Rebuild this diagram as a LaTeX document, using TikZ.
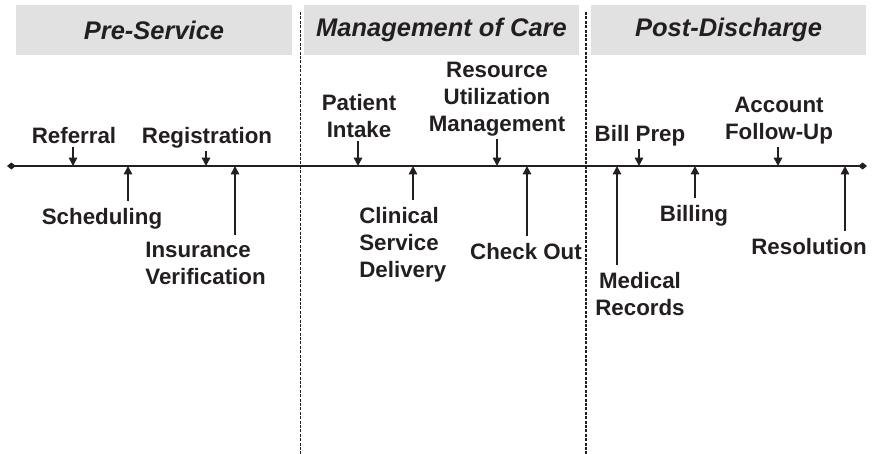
\documentclass[tikz,border=0pt]{standalone}
\usepackage{fontspec}
\setmainfont{Liberation Sans}
\usetikzlibrary{arrows.meta}

\definecolor{headgray}{RGB}{225,225,225}
\definecolor{ink}{RGB}{35,31,32}

\tikzset{
    phase/.style={fill=headgray, text=ink, minimum width=55mm, minimum height=10mm, inner sep=0pt,
        font=\fontsize{14.5}{17}\selectfont\bfseries\itshape},
    stage/.style={inner sep=0pt, text=ink, font=\fontsize{12.7}{15.3}\selectfont\bfseries},
    tickdown/.style={draw=ink, line width=0.9pt, -{Triangle[length=4.8pt,width=4.8pt]}, shorten <=1.5pt},
    tickup/.style={draw=ink, line width=0.9pt, -{Triangle[length=4.8pt,width=4.8pt]}, shorten <=4pt},
    divider/.style={draw=ink, dash pattern=on 1.7pt off 0.8pt, line width=1.1pt}
}

\begin{document}
\begin{tikzpicture}[x=0.2mm, y=-0.2mm]
        \useasboundingbox (0,0) rectangle (873,454);

        % phase headers
        \node[phase] (pre)  at (154,30)   {Pre-Service};
        \node[phase] (care) at (441.5,30) {Management of Care};
        \node[phase] (post) at (728.5,30) {Post-Discharge};

        \draw[divider] (300.5,12) -- (300.5,454);
        \draw[divider] (586,12) -- (586,454);

        % the time line
        \coordinate (tl-start) at (7,166);
        \coordinate (tl-end) at (867,166);
        \draw[draw=ink, line width=1.1pt, {Diamond[length=5pt,width=4pt]}-{Diamond[length=5pt,width=4pt]}] (tl-start) -- (tl-end);

        % points on the line
        \coordinate (referral-t)  at (73,166);
        \coordinate (sched-t)     at (128,166);
        \coordinate (regist-t)    at (206,166);
        \coordinate (insur-t)     at (235,166);
        \coordinate (intake-t)    at (358,166);
        \coordinate (clinical-t)  at (413,166);
        \coordinate (resource-t)  at (497,166);
        \coordinate (checkout-t)  at (527,166);
        \coordinate (records-t)   at (617,166);
        \coordinate (billprep-t)  at (639,166);
        \coordinate (billing-t)   at (695,166);
        \coordinate (account-t)   at (778,166);
        \coordinate (resol-t)     at (845,166);

        % stages above the line
        \node[stage, anchor=north] (referral) at (74,127) {Referral};
        \node[stage, anchor=north] (regist) at (207,127) {Registration};
        \node[stage, anchor=north, align=center] (intake) at (359,94) {Patient\\Intake};
        \node[stage, anchor=north, align=center] (resource) at (497,62) {Resource\\Utilization\\Management};
        \node[stage, anchor=north] (billprep) at (640,125) {Bill Prep};
        \node[stage, anchor=north, align=center] (account) at (779,97) {Account\\Follow-Up};

        % stages below the line
        \node[stage, anchor=north] (sched) at (102,208) {Scheduling};
        \node[stage, anchor=north west, align=left] (insur) at (145,242) {Insurance\\Verification};
        \node[stage, anchor=north west, align=left] (clinical) at (359,207) {Clinical\\Service\\Delivery};
        \node[stage, anchor=north] (checkout) at (526,243) {Check Out};
        \node[stage, anchor=north, align=center] (records) at (640,272) {Medical\\Records};
        \node[stage, anchor=north] (billing) at (694,205) {Billing};
        \node[stage, anchor=north] (resol) at (809,238) {Resolution};

        \draw[tickdown] (referral.south -| referral-t) -- (referral-t);
        \draw[tickdown] (regist.south -| regist-t) -- (regist-t);
        \draw[tickdown] (intake.south -| intake-t) -- (intake-t);
        \draw[tickdown] (resource.south -| resource-t) -- (resource-t);
        \draw[tickdown] (billprep.south -| billprep-t) -- (billprep-t);
        \draw[tickdown] (account.south -| account-t) -- (account-t);

        \draw[tickup] (sched.north -| sched-t) -- (sched-t);
        \draw[tickup] (insur.north -| insur-t) -- (insur-t);
        \draw[tickup] (clinical.north -| clinical-t) -- (clinical-t);
        \draw[tickup] (checkout.north -| checkout-t) -- (checkout-t);
        \draw[tickup] (records.north -| records-t) -- (records-t);
        \draw[tickup] (billing.north -| billing-t) -- (billing-t);
        \draw[tickup] (resol.north -| resol-t) -- (resol-t);
    \end{tikzpicture}
\end{document}
